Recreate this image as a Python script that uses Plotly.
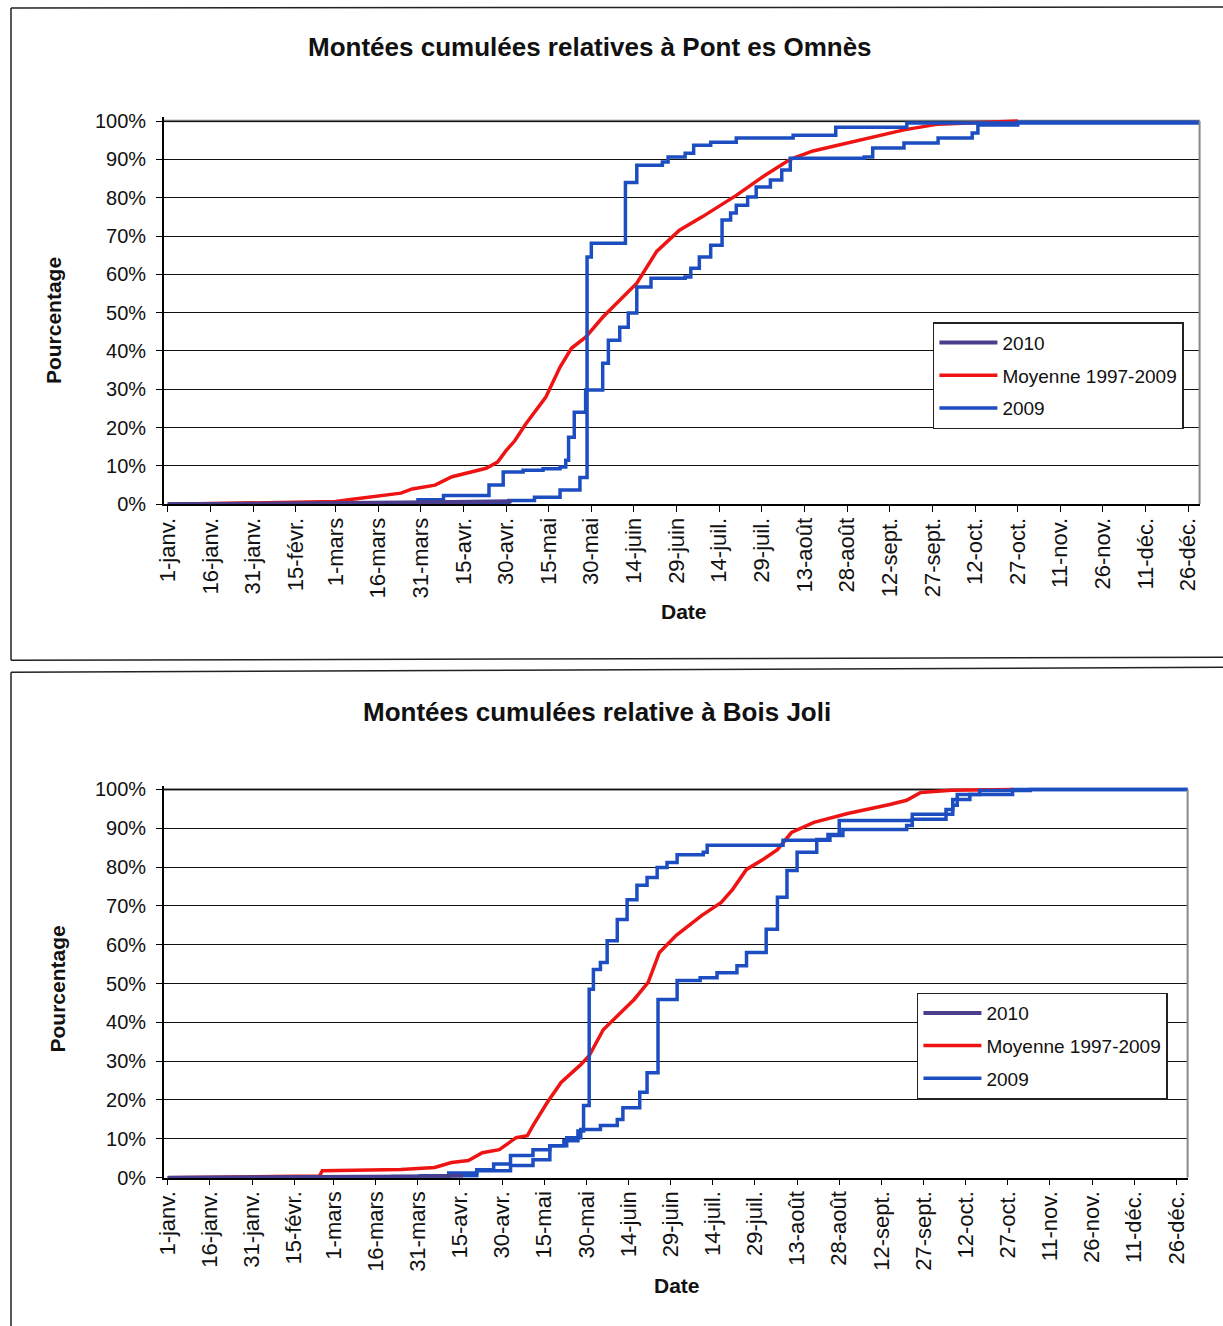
import plotly.graph_objects as go

# Calibration of the rendering: the page is shown with an 8px offset and a slight
# downscale, so reference pixel positions are mapped back to figure pixels.
OX, OY = 8.0, 7.0
SX, SY = 0.993, 0.986
FW, FH = 1224, 1337

# ---------------- data ----------------
tick_days = [0, 15, 30, 45, 59, 74, 89, 104, 119, 134, 149, 164, 179, 194, 209,
             224, 239, 254, 269, 284, 299, 314, 329, 344, 359]
tick_labels = ["1-janv.", "16-janv.", "31-janv.", "15-févr.", "1-mars", "16-mars",
               "31-mars", "15-avr.", "30-avr.", "15-mai", "30-mai", "14-juin",
               "29-juin", "14-juil.", "29-juil.", "13-août", "28-août", "12-sept.",
               "27-sept.", "12-oct.", "27-oct.", "11-nov.", "26-nov.", "11-déc.", "26-déc."]
pct_vals = [0, 10, 20, 30, 40, 50, 60, 70, 80, 90, 100]
pct_labels = ["0%", "10%", "20%", "30%", "40%", "50%", "60%", "70%", "80%", "90%", "100%"]

# Pont es Omnès
pe_moy_days = [0, 30, 59, 65, 76, 82, 86, 94, 100, 106, 112, 116, 119, 122, 126, 133, 138, 142,
               147, 153, 159, 165, 172, 180, 188, 200, 210, 219, 227, 247, 259, 271, 285, 299]
pe_moy_vals = [0, 0.3, 0.7, 1.3, 2.4, 2.9, 4, 5, 7.2, 8.3, 9.4, 11, 14, 16.5, 21, 28, 35.8, 40.7,
               43.6, 48.8, 53.3, 57.7, 66, 71.5, 75, 80.6, 85.8, 90, 92.2, 95.5, 97.7, 99.2, 99.7, 100]

pe_2009_days = [0, 60, 88, 97, 113, 118, 125, 132, 138, 140, 141, 143, 147, 153, 155, 159,
                162, 165, 170, 182, 184, 187, 191, 195, 198, 200, 204, 207, 212, 216, 219,
                245, 248, 259, 271, 283, 285, 299, 365]
pe_2009_vals = [0, 0.3, 1.2, 2.3, 5, 8.4, 8.9, 9.3, 9.7, 11.5, 17.5, 24, 29.8, 36.8, 42.8, 46.2,
                49.9, 56.7, 59, 59.3, 61.6, 64.5, 67.6, 74.2, 76, 78, 80.2, 82.8, 84.6, 87.2, 90.3,
                90.6, 93, 94.3, 95.6, 96.9, 99, 99.7, 100]

pe_b_days = [0, 88, 120, 129, 138, 145, 147.5, 149, 161, 165, 174, 176, 182, 185, 191,
             200, 220, 235, 260, 365]
pe_b_vals = [0, 0.5, 1, 1.8, 3.7, 7, 64.5, 68.1, 84, 88.5, 89.3, 90.6, 91.6, 93.7, 94.5,
             95.6, 96.3, 98.4, 99.5, 100]

pe_2010_days = [0, 60, 93, 100, 110, 121]
pe_2010_vals = [0, 0.2, 0.5, 0.6, 0.7, 0.8]

# Bois Joli
bj_moy_days = [0, 30, 54, 55, 83, 95, 101, 107, 112, 118, 124, 128, 130, 135, 140, 147, 150,
               155, 161, 166, 171, 175, 181, 190, 197, 201, 206, 212, 217, 222, 230, 242,
               257, 263, 268, 279, 301]
bj_moy_vals = [0, 0.2, 0.4, 1.8, 2.1, 2.6, 3.9, 4.4, 6.4, 7.2, 10.3, 10.8, 13.4, 19.3, 24.5,
               29.1, 31.4, 38.1, 42.5, 45.9, 50.3, 58, 62.4, 67.5, 70.9, 74.2, 79.4, 82,
               84.5, 88.9, 91.5, 93.8, 96.1, 97.2, 99.2, 99.8, 100]

bj_2009_days = [0, 80, 100, 110, 116, 122, 130, 136, 141, 146, 148, 150, 151.5, 154, 156.4,
                160, 163.5, 167, 170.6, 174.2, 177.7, 181.3, 190.6, 192, 219, 231, 235, 239,
                265, 279.4, 281, 289, 307, 365]
bj_2009_vals = [0, 0.3, 1.2, 2, 3.5, 5.7, 7.2, 8.2, 9.5, 12, 18.6, 48.5, 53.6, 55.4, 61,
                66.5, 71.6, 75.3, 77.3, 79.9, 81.2, 83.2, 83.8, 85.6, 86.9, 87.1, 88.4, 92,
                93.6, 95.9, 98.7, 99.7, 100, 100]

bj_b_days = [0, 90, 110, 122, 130, 136, 142, 147, 154, 160, 162, 168, 170.6, 174.5, 181.3,
             189.5, 195.5, 202.6, 206, 213, 217, 220.4, 224, 231, 235.7, 240.3, 263, 265,
             277, 279.4, 285.5, 300.7, 365]
bj_b_vals = [0, 0.5, 1.8, 3.1, 4.6, 8.2, 10.3, 12.4, 13.4, 15, 18, 22, 27, 45.9, 50.8,
             51.5, 52.8, 54.6, 58, 64, 72.2, 79.1, 83.8, 86.9, 88.1, 89.7, 90.7, 92.3,
             94.8, 97.4, 98.7, 100, 100]

bj_2010_days = [0, 60, 90, 105]
bj_2010_vals = [0, 0.1, 0.3, 0.5]

series_names = ["2010", "Moyenne 1997-2009", "2009"]
titles = ["Montées cumulées relatives à Pont es Omnès", "Montées cumulées relative à Bois Joli"]

# ---------------- style ----------------
FONT = "Liberation Sans, Arial, sans-serif"
BLUE = "#1c4ec2"
RED = "#ee1414"
PURPLE = "#4b3c8c"


def px_x(x):
    return min(max((x - OX) / SX / FW, 0), 1)


def px_y(y):
    return min(max(1 - (y - OY) / SY / FH, 0), 1)


fig = go.Figure()

charts = [
    dict(xa="x", ya="y", legend="legend",
         moy=(pe_moy_days, pe_moy_vals), y09=(pe_2009_days, pe_2009_vals),
         yb=(pe_b_days, pe_b_vals), y10=(pe_2010_days, pe_2010_vals)),
    dict(xa="x2", ya="y2", legend="legend2",
         moy=(bj_moy_days, bj_moy_vals), y09=(bj_2009_days, bj_2009_vals),
         yb=(bj_b_days, bj_b_vals), y10=(bj_2010_days, bj_2010_vals)),
]

for c in charts:
    fig.add_trace(go.Scatter(x=c["moy"][0], y=c["moy"][1], mode="lines", name=series_names[1],
                             line=dict(color=RED, width=3.5), xaxis=c["xa"], yaxis=c["ya"],
                             legend=c["legend"], legendrank=2, legendgroup="m" + c["xa"]))
    fig.add_trace(go.Scatter(x=c["yb"][0], y=c["yb"][1], mode="lines", name=series_names[2],
                             line=dict(color=BLUE, width=3.5, shape="hv"), xaxis=c["xa"],
                             yaxis=c["ya"], showlegend=False, legend=c["legend"]))
    fig.add_trace(go.Scatter(x=c["y09"][0], y=c["y09"][1], mode="lines", name=series_names[2],
                             line=dict(color=BLUE, width=3.5, shape="hv"), xaxis=c["xa"],
                             yaxis=c["ya"], legend=c["legend"], legendrank=3,
                             legendgroup="b" + c["xa"]))
    fig.add_trace(go.Scatter(x=c["y10"][0], y=c["y10"][1], mode="lines", name=series_names[0],
                             line=dict(color=PURPLE, width=4), xaxis=c["xa"], yaxis=c["ya"],
                             legend=c["legend"], legendrank=1, legendgroup="p" + c["xa"]))

xcommon = dict(range=[-1.4, 363], tickmode="array", tickvals=tick_days, ticktext=tick_labels,
               tickangle=-90, ticks="outside", ticklen=6, tickcolor="black",
               showline=True, linecolor="black", linewidth=1.5, showgrid=False, zeroline=False,
               tickfont=dict(family=FONT, size=22, color="#111"), ticklabelstandoff=-3)
ycommon = dict(range=[0, 101], tickmode="array", tickvals=pct_vals, ticktext=pct_labels,
               ticks="outside", ticklen=6, tickcolor="black",
               showline=True, linecolor="black", linewidth=1.5, showgrid=True,
               gridcolor="#111111", gridwidth=1.3, zeroline=False,
               tickfont=dict(family=FONT, size=20, color="#111"), ticklabelstandoff=6)

legend_common = dict(xanchor="left", yanchor="top", bordercolor="#222", borderwidth=1.5,
                     bgcolor="white", font=dict(family=FONT, size=19, color="#111"),
                     tracegroupgap=5, traceorder="grouped", itemwidth=58)

fig.update_layout(
    width=FW, height=FH, margin=dict(l=0, r=0, t=0, b=0),
    paper_bgcolor="white", plot_bgcolor="white",
    font=dict(family=FONT, color="#111"),
    xaxis=dict(domain=[px_x(163), px_x(1200)], anchor="y", **xcommon),
    yaxis=dict(domain=[px_y(504), px_y(504 - 101 * 3.83)], anchor="x", **ycommon),
    xaxis2=dict(domain=[px_x(163), px_x(1188)], anchor="y2", **xcommon),
    yaxis2=dict(domain=[px_y(1177), px_y(1177 - 101 * 3.88)], anchor="x2", **ycommon),
    legend=dict(x=px_x(933), y=px_y(322), **legend_common),
    legend2=dict(x=px_x(917), y=px_y(992), **legend_common),
    showlegend=True,
)

anns = []
for (txt, xx, yy) in [(titles[0], 590, 47), (titles[1], 597, 712)]:
    anns.append(dict(text="<b>" + txt + "</b>", x=px_x(xx), y=px_y(yy), xref="paper",
                     yref="paper", showarrow=False, xanchor="center", yanchor="middle",
                     font=dict(family=FONT, size=26, color="#111")))
for (xx, yy) in [(52, 320), (57, 988)]:
    anns.append(dict(text="<b>Pourcentage</b>", x=px_x(xx), y=px_y(yy), xref="paper", yref="paper",
                     showarrow=False, textangle=-90, xanchor="center", yanchor="middle",
                     font=dict(family=FONT, size=21, color="#111")))
for (xx, yy) in [(684, 611), (677, 1285)]:
    anns.append(dict(text="<b>Date</b>", x=px_x(xx), y=px_y(yy), xref="paper", yref="paper",
                     showarrow=False, xanchor="center", yanchor="middle",
                     font=dict(family=FONT, size=21, color="#111")))
fig.update_layout(annotations=anns)

# frames around each chart and right/top borders of plot areas
shapes = []
frame_lines = [
    (10, 8, 1230, 3), (10, 8, 10, 660), (10, 660, 1230, 657),
    (10, 672, 1230, 667), (10, 672, 10, 1340),
]
for (x0, y0, x1, y1) in frame_lines:
    shapes.append(dict(type="line", xref="paper", yref="paper", x0=px_x(x0), y0=px_y(y0),
                       x1=px_x(x1), y1=px_y(y1), line=dict(color="#222", width=1.5)))
for (xa, ya) in [("x", "y"), ("x2", "y2")]:
    shapes.append(dict(type="line", xref=xa + " domain", yref=ya, x0=1, x1=1, y0=0, y1=100,
                       line=dict(color="#888", width=2)))
    shapes.append(dict(type="line", xref=xa + " domain", yref=ya, x0=0, x1=1, y0=100, y1=100,
                       line=dict(color="#777", width=2.5), layer="below"))
fig.update_layout(shapes=shapes)

fig.write_html("out.html")
